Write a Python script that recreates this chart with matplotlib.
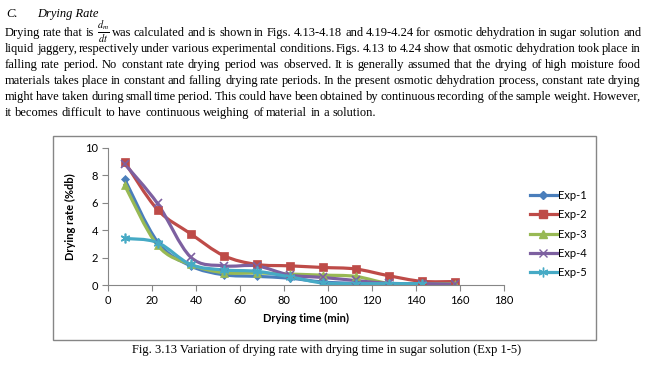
import matplotlib
matplotlib.use("Agg")
import matplotlib.pyplot as plt
from matplotlib.path import Path
from matplotlib.patches import PathPatch, Rectangle
from matplotlib.lines import Line2D


# drying time (min) and drying rate (%db) for the five experiments
time_min = [7.5, 22.5, 37.5, 52.5, 67.5, 82.5, 97.5, 112.5, 127.5, 142.5, 157.5]

exp1 = [7.75, 3.15, 1.4, 0.75, 0.63, 0.5, 0.22, 0.12, 0.08, 0.06]
exp2 = [9.0, 5.5, 3.75, 2.15, 1.5, 1.4, 1.28, 1.17, 0.68, 0.27, 0.25]
exp3 = [7.3, 2.9, 1.5, 0.9, 0.88, 0.8, 0.72, 0.63, 0.12, 0.1, 0.1]
exp4 = [8.85, 5.95, 2.05, 1.4, 1.4, 0.73, 0.55, 0.33, 0.12, 0.1, 0.06]
exp5 = [3.4, 3.1, 1.5, 1.1, 1.0, 0.6, 0.15, 0.1, 0.1, 0.1]

labels = ['Exp-1', 'Exp-2', 'Exp-3', 'Exp-4', 'Exp-5']
colors = ['#4A7EBB', '#BE4B48', '#98B954', '#7D60A0', '#46AAC5']
markers = ['D', 's', '^', 'x', (6, 2, 0)]
msizes = [4.5, 5.5, 5.5, 6, 7]

header = 'C.'
header_title = 'Drying Rate'
para = [
    r'Drying rate that is $\frac{d_m}{dt}$ was calculated and is shown in Figs. 4.13-4.18 and 4.19-4.24 for osmotic dehydration in sugar solution and',
    'liquid jaggery, respectively under various experimental conditions. Figs. 4.13 to 4.24 show that osmotic dehydration took place in',
    'falling rate period. No constant rate drying period was observed. It is generally assumed that the drying of high moisture food',
    'materials takes place in constant and falling drying rate periods. In the present osmotic dehydration process, constant rate drying',
    'might have taken during small time period. This could have been obtained by continuous recording of the sample weight. However,',
    'it becomes difficult to have continuous weighing of material in a solution.',
]
caption = 'Fig. 3.13 Variation of drying rate with drying time in sugar solution (Exp 1-5)'

W, H = 648, 367


def fx(px):
    return px / W


def fy(py):
    return 1 - py / H


def smooth_path(x, y):
    # excel style smoothed line: bezier through the points
    n = len(x)
    verts = [(x[0], y[0])]
    codes = [Path.MOVETO]
    for i in range(n - 1):
        x0, y0 = (x[i - 1], y[i - 1]) if i > 0 else (x[i], y[i])
        x3, y3 = (x[i + 2], y[i + 2]) if i + 2 < n else (x[i + 1], y[i + 1])
        c1 = (x[i] + (x[i + 1] - x0) / 6, y[i] + (y[i + 1] - y0) / 6)
        c2 = (x[i + 1] - (x3 - x[i]) / 6, y[i + 1] - (y3 - y[i]) / 6)
        verts += [c1, c2, (x[i + 1], y[i + 1])]
        codes += [Path.CURVE4] * 3
    return Path(verts, codes)


def main():

    plt.rcParams['mathtext.fontset'] = 'stix'

    fig = plt.figure(figsize=(W / 100, H / 100), dpi=100)
    r = fig.canvas.get_renderer()

    fs = 9.0
    serif = dict(family='Liberation Serif', color='black')

    #-------------------------------------------------------------------------
    # text above the chart

    fig.text(fx(6), fy(17), header, style='italic', va='baseline', fontsize=fs, **serif)
    fig.text(fx(37), fy(17), header_title, style='italic', va='baseline', fontsize=fs, **serif)

    baselines = [36, 52, 68, 84, 100, 116]
    x0, x1 = 5, 641
    for k, line in enumerate(para):
        if '$' in line:
            pre, mth, post = line.split('$')
            words = pre.split() + ['$' + mth + '$'] + post.split()
        else:
            words = line.split()
        objs = []
        for w in words:
            size = 10.5 if w.startswith('$') else fs
            objs.append(fig.text(0, fy(baselines[k]), w, va='baseline', ha='left',
                                 fontsize=size, **serif))
        ws = [o.get_window_extent(r).width for o in objs]
        if k < len(para) - 1:
            gap = (x1 - x0 - sum(ws)) / (len(words) - 1)
        else:
            gap = fs * 0.25 * 100 / 72
        x = x0
        for o, w in zip(objs, ws):
            o.set_x(fx(round(x)))
            x += w + gap

    #-------------------------------------------------------------------------
    # chart frame and caption

    fig.patches.append(Rectangle((fx(53), fy(340)), fx(596) - fx(53), fy(136) - fy(340),
                                 transform=fig.transFigure, fill=False,
                                 edgecolor='#868686', linewidth=1.0))
    fig.text(fx(327), fy(353), caption, ha='center', va='baseline', fontsize=fs, **serif)

    #-------------------------------------------------------------------------
    # the chart

    ax = fig.add_axes([fx(108), fy(285), fx(504) - fx(108), fy(148) - fy(285)])

    series = [exp1, exp2, exp3, exp4, exp5]
    handles = []
    for ys, lab, c, m, ms in zip(series, labels, colors, markers, msizes):
        xs = time_min[:len(ys)]
        ax.add_patch(PathPatch(smooth_path(xs, ys), fill=False, edgecolor=c,
                               linewidth=2.3, capstyle='round', joinstyle='round'))
        ax.plot(xs, ys, linestyle='none', marker=m, markersize=ms, color=c,
                markeredgecolor=c, markeredgewidth=1.2 if m in ('x', (6, 2, 0)) else 0.5)
        handles.append(Line2D([], [], color=c, linewidth=2.3, marker=m,
                              markersize=ms, markeredgecolor=c))

    ax.set_xlim(0, 180)
    ax.set_ylim(0, 10)
    ax.set_xticks(range(0, 181, 20))
    ax.set_yticks(range(0, 11, 2))

    for s in ['top', 'right']:
        ax.spines[s].set_visible(False)
    for s in ['left', 'bottom']:
        ax.spines[s].set_color('#868686')
        ax.spines[s].set_linewidth(0.8)
    ax.tick_params(colors='#868686', labelcolor='black', length=4, width=0.8,
                   labelsize=8, pad=3)
    for t in ax.get_xticklabels() + ax.get_yticklabels():
        t.set_family('Lato')

    ax.set_xlabel('Drying time (min)', family='Lato', fontsize=8,
                  fontweight='bold', labelpad=5)
    ax.set_ylabel('Drying rate (%db)', family='Lato', fontsize=8,
                  fontweight='bold', labelpad=7)

    fig.legend(handles, labels, loc='upper left',
               bbox_to_anchor=(fx(530), fy(190)), bbox_transform=fig.transFigure,
               frameon=False, borderpad=0, borderaxespad=0, handlelength=2.4,
               handletextpad=0.1, labelspacing=0.75,
               prop={'family': 'Lato', 'size': 8})

    fig.savefig('out.png', dpi=100)


if __name__ == "__main__":
    main()
